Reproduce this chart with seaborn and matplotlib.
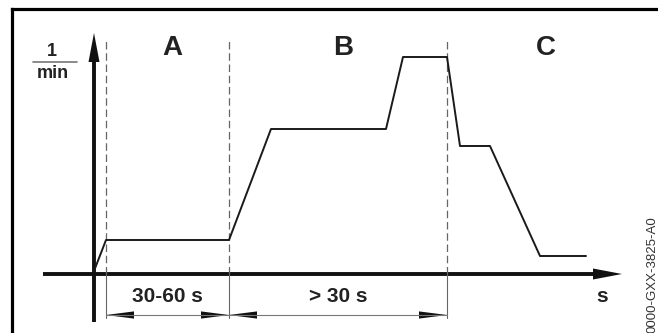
import seaborn as sns
import pandas as pd
import numpy as np
import matplotlib.pyplot as plt

# speed profile (x: time units to the right of the origin, y: speed units above the time axis)
curve_x = [0, 12, 135, 177, 292, 309, 353, 366, 396, 446, 492]
curve_y = [3, 34, 34, 145, 145, 217, 217, 128, 128, 18, 18]

phase_bounds = [12, 135, 353]
phase_names = ['A', 'B', 'C']
phase_label_x = [78, 249, 452]
duration_labels = ['30-60 s', '> 30 s']
image_id = '0000-GXX-3825-A0'

sns.set_style('white')
plt.rcParams['font.family'] = ['Liberation Sans', 'DejaVu Sans']

fig = plt.figure(figsize=(6.58, 3.33), dpi=100)
ax = fig.add_axes([0, 0, 1, 1])
ax.set_xlim(-94, 564)
ax.set_ylim(-59, 274)
ax.axis('off')

# frame (left and top)
ax.plot([-82.5, -82.5], [-59, 265.5], color='black', lw=2.3, solid_capstyle='projecting')
ax.plot([-82.5, 564], [265.5, 265.5], color='black', lw=2.3, solid_capstyle='projecting')

# axes with arrow heads
ax.plot([-51, 500], [0, 0], color='#111111', lw=2.8, solid_capstyle='butt')
ax.fill([499, 528, 499], [-5.5, 0, 5.5], color='#111111', lw=0)
ax.plot([0, 0], [-48, 215], color='#111111', lw=2.8, solid_capstyle='butt')
ax.fill([-5.5, 0, 5.5], [212, 241, 212], color='#111111', lw=0)

# unit label 1/min
ax.text(-42, 222, '1', ha='center', va='center', fontsize=13, fontweight='bold', color='#222222')
ax.plot([-61, -17], [212, 212], color='#777777', lw=1.2)
ax.text(-41, 200, 'min', ha='center', va='center', fontsize=13, fontweight='bold', color='#222222')

# phase boundaries: dashed above the axis, solid extension lines below
for bx in phase_bounds:
    ax.plot([bx, bx], [0, 236], color='#666666', lw=0.9, dashes=(6, 3))
    ax.plot([bx, bx], [0, -44], color='#666666', lw=0.8)

for name, lx in zip(phase_names, phase_label_x):
    ax.text(lx, 226, name, ha='center', va='center', fontsize=20, fontweight='bold', color='#222222')

# dimension arrows for the phase durations
dim_y = -41
for (x0, x1), lab in zip(zip(phase_bounds[:-1], phase_bounds[1:]), duration_labels):
    ax.plot([x0, x1], [dim_y, dim_y], color='#777777', lw=0.8)
    ax.fill([x0, x0 + 28, x0 + 28], [dim_y, dim_y + 3.6, dim_y - 3.6], color='#111111', lw=0)
    ax.fill([x1, x1 - 28, x1 - 28], [dim_y, dim_y + 3.6, dim_y - 3.6], color='#111111', lw=0)
    ax.text((x0 + x1) / 2, -23, lab, ha='center', va='center', fontsize=15, fontweight='bold', color='#222222')

ax.text(508, -23, 's', ha='center', va='center', fontsize=15, fontweight='bold', color='#222222')

# speed curve
df = pd.DataFrame({'t': curve_x, 'n': curve_y})
sns.lineplot(data=df, x='t', y='n', sort=False, color='#1a1a1a', lw=1.4, ax=ax)
ax.set_xlim(-94, 564)
ax.set_ylim(-59, 274)

ax.text(558, 58, image_id, rotation=90, ha='center', va='top', fontsize=9.5, color='#333333')

fig.savefig('out.png', dpi=100)
